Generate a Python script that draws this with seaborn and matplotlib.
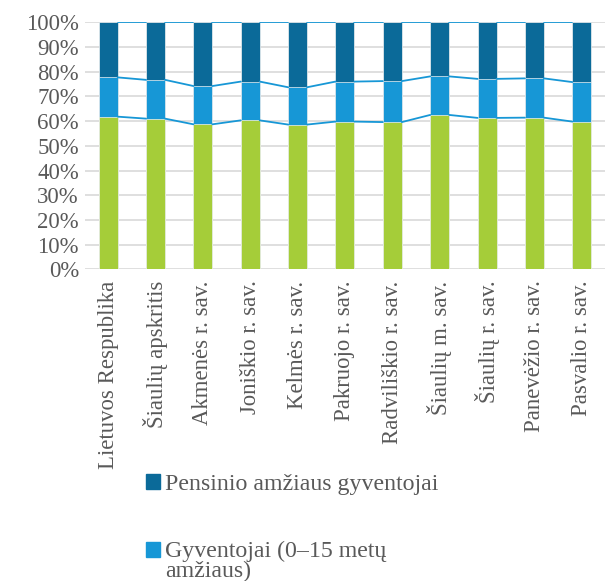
import matplotlib
matplotlib.use("Agg")
import matplotlib.pyplot as plt
from matplotlib.patches import Patch, Rectangle
from matplotlib.legend_handler import HandlerPatch
import pandas as pd
import seaborn as sns

# categories (left to right)
regions = [
    "Lietuvos Respublika", "Šiaulių apskritis", "Akmenės r. sav.",
    "Joniškio r. sav.", "Kelmės r. sav.", "Pakruojo r. sav.",
    "Radviliškio r. sav.", "Šiaulių m. sav.", "Šiaulių r. sav.",
    "Panevėžio r. sav.", "Pasvalio r. sav.",
]
# shares in percent
working_age = [61.8, 61.0, 58.7, 60.3, 58.6, 59.8, 59.6, 62.5, 61.3, 61.4, 59.8]
children = [15.9, 15.7, 15.5, 15.7, 15.1, 16.2, 16.6, 15.6, 15.8, 15.9, 16.0]
pension = [22.3, 23.3, 25.8, 24.0, 26.3, 24.0, 23.8, 21.9, 22.9, 22.7, 24.2]

labels = ["Pensinio amžiaus gyventojai", "Gyventojai (0–15 metų\namžiaus)"]
c_green = "#a5cd39"
c_light = "#1797d6"
c_dark = "#0b6a99"
txt = "#595959"
serif = ["Liberation Serif", "DejaVu Serif"]
tick_size = 16.4
leg_size = 17.2

df = pd.DataFrame({"region": regions, "work": working_age,
                   "child": children, "pens": pension})
df["lvl1"] = df["work"]
df["lvl2"] = df["work"] + df["child"]
df["lvl3"] = df["lvl2"] + df["pens"]

sns.set_theme(style="white")
plt.rcParams["font.family"] = serif

fig = plt.figure(figsize=(6.05, 5.81), dpi=100)
ax = fig.add_axes([0.1397, 0.5365, 0.861, 0.4251])

bw = 0.4
# overlapping cumulative bars give the stacked look
sns.barplot(data=df, x="region", y="lvl3", color=c_dark, width=bw,
            saturation=1, ax=ax, zorder=2)
sns.barplot(data=df, x="region", y="lvl2", color=c_light, width=bw,
            saturation=1, ax=ax, zorder=3)
sns.barplot(data=df, x="region", y="lvl1", color=c_green, width=bw,
            saturation=1, ax=ax, zorder=4)
for p in ax.patches:
    p.set_edgecolor("#f2f2f2")
    p.set_linewidth(0.5)

# series lines between bars
for col in ["lvl1", "lvl2", "lvl3"]:
    vals = df[col].tolist()
    for i in range(len(vals) - 1):
        ax.plot([i + bw / 2, i + 1 - bw / 2], [vals[i], vals[i + 1]],
                color=c_light, lw=1.3, zorder=5)

ax.set_ylim(0, 100)
ax.set_xlim(-0.5, len(regions) - 0.5)
ax.set_yticks(range(0, 101, 10))
ax.set_yticklabels([f"{v}%" for v in range(0, 101, 10)])
ax.yaxis.grid(True, color="#d9d9d9", lw=1.2, zorder=0)
ax.set_axisbelow(True)
for s in ax.spines.values():
    s.set_visible(False)
ax.set_xlabel("")
ax.set_ylabel("")
ax.tick_params(axis="x", labelrotation=90, labelsize=tick_size, colors=txt,
               length=0, pad=8)
ax.tick_params(axis="y", labelsize=tick_size, colors=txt, length=0, pad=4)
for t in ax.get_xticklabels() + ax.get_yticklabels():
    t.set_fontfamily(serif)


# put the square next to the first line of a wrapped label
def first_line_patch(legend, orig_handle, xdescent, ydescent, width, height,
                     fontsize):
    return Rectangle((-xdescent, -ydescent + 0.48 * fontsize), width, height)


handles = [Patch(color=c_dark), Patch(color=c_light)]
leg = fig.legend(handles, labels, loc="upper left",
                 bbox_to_anchor=(0.206, 0.222), frameon=False,
                 prop={"family": serif, "size": leg_size},
                 handlelength=0.58, handleheight=0.58,
                 handletextpad=0.2, labelspacing=1.95,
                 handler_map={handles[1]: HandlerPatch(patch_func=first_line_patch)})
for t in leg.get_texts():
    t.set_color(txt)
    t.set_linespacing(0.92)

fig.savefig("out.png", dpi=100)
